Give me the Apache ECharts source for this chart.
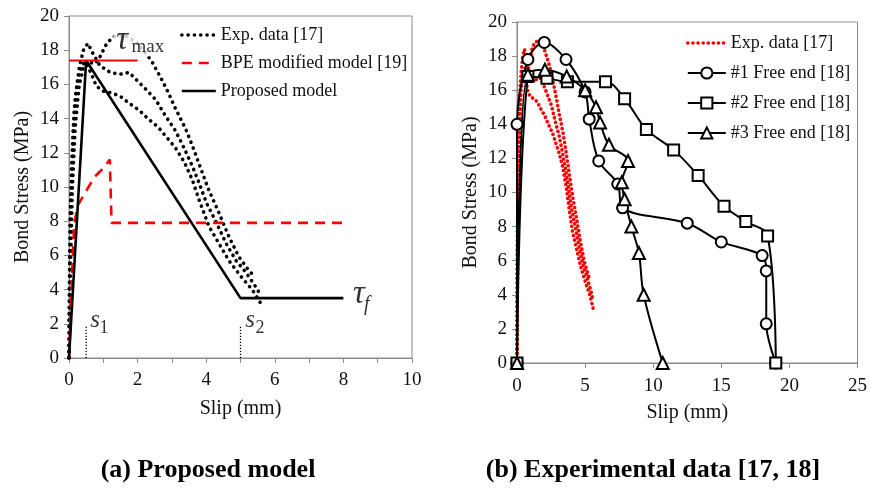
<!DOCTYPE html>
<html><head><meta charset="utf-8">
<script src="https://cdn.jsdelivr.net/npm/echarts@6/dist/echarts.min.js"></script>
<style>html,body{margin:0;padding:0;background:#fff}#c{width:870px;height:492px}</style>
</head><body><div id="c"></div>
<script>
// ---------- (a) Proposed model ----------
const expA1 = [[0,0],[0.02,5],[0.06,9],[0.12,13],[0.2,15.5],[0.3,17],[0.42,18],[0.55,18.4],[0.7,17.8],[0.9,17.1],[1.2,16.7],[1.5,16.6],[1.75,16.7],[2.0,16.2],[2.25,15.7],[2.53,15.1],[2.8,14.2],[3.1,13.3],[3.35,12.3],[3.6,11.2],[3.8,10.2],[4.0,9.1],[4.3,7.9],[4.58,6.7],[4.87,5.7],[5.16,5.0],[5.4,4.3],[5.55,3.8]];
const expA2 = [[0,0],[0.01,4],[0.03,8],[0.08,11.5],[0.15,14.5],[0.26,16.4],[0.4,17.2],[0.5,17.3],[0.65,16.6],[0.8,15.9],[1.0,15.6],[1.25,15.5],[1.5,15.3],[1.75,14.9],[2.04,14.5],[2.3,14.0],[2.6,13.5],[2.85,12.9],[3.1,12.3],[3.35,11.5],[3.6,10.4],[3.8,9.2],[4.08,7.7],[4.37,6.7],[4.66,5.7],[5.04,4.7],[5.34,4.0],[5.62,3.1]];
const expA3 = [[0,0],[0.04,5],[0.1,10],[0.18,13.5],[0.3,16],[0.45,17.2],[0.6,17.3],[0.75,17.2],[0.9,17.6],[1.1,18.4],[1.3,18.8],[1.6,18.9],[2.0,18.4],[2.4,17.4],[2.7,16.3],[2.9,15.5],[3.1,14.6],[3.4,13.4],[3.6,12.4],[3.8,11.3],[4.08,9.8],[4.37,8.5],[4.66,7.1],[4.96,5.9],[5.25,5.1],[5.35,4.9]];
const bpeModel = [[0,0],[0.05,2.5],[0.1,5.5],[0.15,7.8],[0.25,8.9],[0.45,9.6],[0.75,10.6],[0.95,11.0],[1.19,11.6],[1.24,7.9],[8,7.9]];
const proposedModel = [[0,0],[0.5,17.4],[5,3.5],[8,3.5]];
const tauMaxLine = [[0,17.4],[2,17.4]];
const s1Line = [[0.5,0],[0.5,1.9]];
const s2Line = [[5,0],[5,1.9]];
const annotationsA = [
  {pos:[1.55,18.55], text:'τ', size:33, italic:true, bg:true},
  {pos:[2.3,18.2], text:'max', size:19, italic:false, bg:true},
  {pos:[8.45,3.75], text:'τ', size:33, italic:true},
  {pos:[8.68,3.1], text:'f', size:20, italic:true},
  {pos:[0.76,2.2], text:'s', size:25, italic:true},
  {pos:[1.02,1.75], text:'1', size:18, italic:false},
  {pos:[5.28,2.2], text:'s', size:25, italic:true},
  {pos:[5.57,1.75], text:'2', size:18, italic:false}
];
const xTicksA = {min:0, max:10, interval:2};
const yTicks = {min:0, max:20, interval:2};

// ---------- (b) Experimental data ----------
const free1 = [[0,0],[0,14],[0.8,17.8],[2.0,18.8],[3.6,17.8],[5.0,15.9],[5.3,14.3],[6.0,11.85],[7.4,10.5],[7.75,9.1],[12.5,8.2],[15.0,7.1],[18.0,6.3],[18.3,5.4],[18.3,2.3],[19.0,0]];
const free2 = [[0,0],[0.8,16.8],[2.2,16.7],[3.7,16.5],[6.5,16.5],[7.9,15.5],[9.5,13.7],[11.5,12.5],[13.3,11.0],[15.2,9.2],[16.8,8.3],[18.4,7.45],[19.0,0]];
const free3 = [[0,0],[0.8,16.9],[2.05,17.2],[3.65,16.8],[5.0,16.0],[5.8,15.0],[6.1,14.1],[6.75,12.8],[8.15,11.85],[7.7,10.6],[7.9,9.6],[8.4,8.0],[8.95,6.45],[9.3,4.0],[10.7,0]];
const xTicksB = {min:0, max:25, interval:5};

const legendNames = {
  a_exp:'Exp. data [17]', a_bpe:'BPE modified model [19]', a_prop:'Proposed model',
  b_exp:'Exp. data [17]', b_f1:'#1 Free end [18]', b_f2:'#2 Free end [18]', b_f3:'#3 Free end [18]'
};
const captions = ['(a) Proposed model', '(b) Experimental data [17, 18]'];

const SERIF = 'Liberation Serif';
const axisGray = '#8a8a8a';
function xAxis(idx, t, gap, margin, minor){
  return {gridIndex:idx, type:'value', min:t.min, max:t.max, interval:t.interval,
    name:'Slip (mm)', nameLocation:'middle', nameGap:gap,
    nameTextStyle:{fontFamily:SERIF, fontSize:20, color:'#111'},
    axisLine:{show:true, onZero:false, lineStyle:{color:axisGray, width:1}},
    axisTick:{show:true, inside:false, length:5, lineStyle:{color:axisGray}},
    minorTick:{show:minor, splitNumber:2, length:5, lineStyle:{color:axisGray}},
    splitLine:{show:false},
    axisLabel:{fontFamily:SERIF, fontSize:19, color:'#111', margin:margin}};
}
function yAxis(idx, gap){
  return {gridIndex:idx, type:'value', min:yTicks.min, max:yTicks.max, interval:yTicks.interval,
    name:'Bond Stress (MPa)', nameLocation:'middle', nameGap:gap, nameRotate:90,
    nameTextStyle:{fontFamily:SERIF, fontSize:20, color:'#111'},
    axisLine:{show:true, onZero:false, lineStyle:{color:axisGray, width:1}},
    axisTick:{show:true, inside:false, length:5, lineStyle:{color:axisGray}},
    splitLine:{show:false},
    axisLabel:{fontFamily:SERIF, fontSize:19, color:'#111', margin:10}};
}
const dotBlack = {color:'#000', width:3.6, type:[0.1,6.2], cap:'round'};
const dotRed = {color:'#ff0000', width:3.6, type:[0.1,4.6], cap:'round'};
function lineS(name, data, xi, style, extra){
  return Object.assign({name:name, type:'line', data:data, xAxisIndex:xi, yAxisIndex:xi,
    showSymbol:false, symbol:'none', lineStyle:style, itemStyle:{color:style.color}, z:3, animation:false}, extra||{});
}
const series = [
  lineS('a_exp', expA1, 0, dotBlack),
  lineS('a_exp', expA2, 0, dotBlack),
  lineS('a_exp', expA3, 0, dotBlack),
  lineS('a_bpe', bpeModel, 0, {color:'#ff0000', width:2.6, type:[10,7]}),
  lineS('a_prop', proposedModel, 0, {color:'#000', width:2.6}),
  lineS('tau', tauMaxLine, 0, {color:'#ff0000', width:2}),
  lineS('s1', s1Line, 0, {color:'#000', width:1.3, type:[1.3,1.7]}),
  lineS('s2', s2Line, 0, {color:'#000', width:1.3, type:[1.3,1.7]}),
  {name:'annot', type:'scatter', xAxisIndex:0, yAxisIndex:0, symbolSize:0, animation:false, z:6, silent:true,
    data: annotationsA.map(a=>({value:a.pos, label:{show:true, position:'inside', formatter:a.text,
      fontFamily:SERIF, fontSize:a.size, fontStyle:a.italic?'italic':'normal', color:'#000',
      backgroundColor:a.bg?'#fff':'transparent', padding:a.bg?[0,3,0,3]:0}}))},
  lineS('b_exp', expA1, 1, dotRed),
  lineS('b_exp', expA2, 1, dotRed),
  lineS('b_exp', expA3, 1, dotRed),
  lineS('b_f1', free1, 1, {color:'#000', width:2}, {smooth:0.35, showSymbol:true, symbol:'emptyCircle', symbolSize:11, itemStyle:{color:'#000', borderWidth:1.1}}),
  lineS('b_f2', free2, 1, {color:'#000', width:2}, {smooth:0.35, showSymbol:true, symbol:'emptyRect', symbolSize:11, itemStyle:{color:'#000', borderWidth:1.1}}),
  lineS('b_f3', free3, 1, {color:'#000', width:2}, {smooth:0.35, showSymbol:true, symbol:'emptyTriangle', symbolSize:12, itemStyle:{color:'#000', borderWidth:1.1}})
];
const legendText = {fontFamily:SERIF, fontSize:18, color:'#111'};
const noSymbolItem = (n, ls) => ({name:n, itemStyle:{opacity:0}, lineStyle:ls});
const option = {
  backgroundColor:'#fff', animation:false,
  grid:[{left:69, top:16, width:343, height:342, show:true, borderColor:axisGray, borderWidth:1, backgroundColor:'transparent'},
        {left:517, top:22, width:341, height:341, show:true, borderColor:axisGray, borderWidth:1, backgroundColor:'transparent'}],
  xAxis:[xAxis(0, xTicksA, 41, 13, true), xAxis(1, xTicksB, 40, 14, false)],
  yAxis:[yAxis(0, 36), yAxis(1, 36)],
  legend:[
    {data:[noSymbolItem('a_exp', {width:3.6, type:[0.1,6.2], cap:'round'}), noSymbolItem('a_bpe', {width:2.6}), noSymbolItem('a_prop', {width:2.6})],
     orient:'vertical', left:175, top:21, itemWidth:34, itemHeight:14, itemGap:10,
     formatter:n=>legendNames[n], textStyle:legendText, selectedMode:false},
    {data:[noSymbolItem('b_exp', {width:3.6, type:[0.1,5], cap:'round'}), {name:'b_f1'}, {name:'b_f2'}, {name:'b_f3'}],
     orient:'vertical', left:681, top:29, itemWidth:38, itemHeight:14, itemGap:12,
     formatter:n=>legendNames[n], textStyle:legendText, selectedMode:false}
  ],
  graphic:[
    {type:'text', x:208, y:470, style:{text:captions[0], font:'bold 26px "Liberation Serif"', fill:'#000', align:'center', verticalAlign:'middle'}},
    {type:'text', x:653, y:470, style:{text:captions[1], font:'bold 26px "Liberation Serif"', fill:'#000', align:'center', verticalAlign:'middle'}}
  ],
  series:series
};
const chart = echarts.init(document.getElementById('c'), null, {renderer:'canvas'});
chart.setOption(option);
</script></body></html>
